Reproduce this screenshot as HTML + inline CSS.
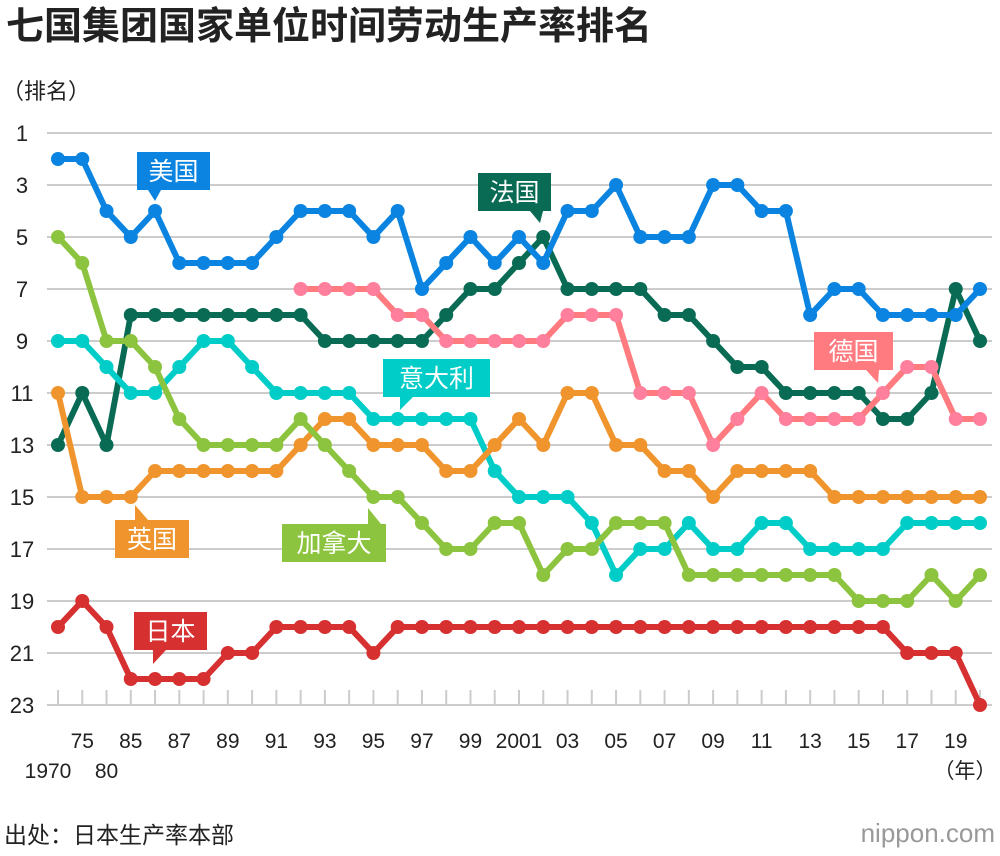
<!DOCTYPE html>
<html><head><meta charset="utf-8">
<style>
body{margin:0;background:#fff;width:1000px;height:856px;overflow:hidden;font-family:"Liberation Sans","Noto Sans CJK SC",sans-serif;}
svg{position:absolute;left:0;top:0}
</style></head>
<body>
<svg width="1000" height="856" id="chart">
<text x="6" y="39" font-size="38" font-weight="bold" fill="#222" font-family="Liberation Sans, Noto Sans CJK SC, sans-serif">七国集团国家单位时间劳动生产率排名</text>
<text x="2" y="99" font-size="22" fill="#222" font-family="Liberation Sans, Noto Sans CJK SC, sans-serif">（排名）</text>
<g id="grid"></g><g id="series"></g><g id="labels"></g>
<text x="4" y="843" font-size="23" fill="#222" font-family="Liberation Sans, Noto Sans CJK SC, sans-serif">出处：日本生产率本部</text>
<text x="995" y="842" text-anchor="end" font-size="26" fill="#999" font-family="Liberation Sans, sans-serif">nippon.com</text>
</svg>
<script>
const years=[1970,1975,1980,1985,1986,1987,1988,1989,1990,1991,1992,1993,1994,1995,1996,1997,1998,1999,2000,2001,2002,2003,2004,2005,2006,2007,2008,2009,2010,2011,2012,2013,2014,2015,2016,2017,2018,2019,2020];
const usa=[2,2,4,5,4,6,6,6,6,5,4,4,4,5,4,7,6,5,6,5,6,4,4,3,5,5,5,3,3,4,4,8,7,7,8,8,8,8,7];
const france=[13,11,13,8,8,8,8,8,8,8,8,9,9,9,9,9,8,7,7,6,5,7,7,7,7,8,8,9,10,10,11,11,11,11,12,12,11,7,9];
const germany=[null,null,null,null,null,null,null,null,null,null,7,7,7,7,8,8,9,9,9,9,9,8,8,8,11,11,11,13,12,11,12,12,12,12,11,10,10,12,12];
const italy=[9,9,10,11,11,10,9,9,10,11,11,11,11,12,12,12,12,12,14,15,15,15,16,18,17,17,16,17,17,16,16,17,17,17,17,16,16,16,16];
const uk=[11,15,15,15,14,14,14,14,14,14,13,12,12,13,13,13,14,14,13,12,13,11,11,13,13,14,14,15,14,14,14,14,15,15,15,15,15,15,15];
const canada=[5,6,9,9,10,12,13,13,13,13,12,13,14,15,15,16,17,17,16,16,18,17,17,16,16,16,18,18,18,18,18,18,18,19,19,19,18,19,18];
const japan=[20,19,20,22,22,22,22,21,21,20,20,20,20,21,20,20,20,20,20,20,20,20,20,20,20,20,20,20,20,20,20,20,20,20,20,21,21,21,23];
const yTicks=[1,3,5,7,9,11,13,15,17,19,21,23];
const xTickLabels=["","75","","85","","87","","89","","91","","93","","95","","97","","99","","2001","","03","","05","","07","","09","","11","","13","","15","","17","","19",""];

const NS="http://www.w3.org/2000/svg";
function x(i){return 58+i*(980-58)/38;}
function y(r){return 133+(r-1)*(705-133)/22;}
function mk(tag,attrs,parent){const e=document.createElementNS(NS,tag);for(const k in attrs)e.setAttribute(k,attrs[k]);parent.appendChild(e);return e;}
const grid=document.getElementById('grid'),ser=document.getElementById('series'),lab=document.getElementById('labels');
yTicks.forEach(r=>{
  const l=mk('line',{x1:47,x2:992,y1:y(r),y2:y(r),stroke:'#ccc','stroke-width':2},grid);
  
  
  const t=mk('text',{x:22,y:y(r)+8,'text-anchor':'middle','font-size':22,fill:'#222'},grid);
  t.textContent=r;
  
  
});
years.forEach((yr,i)=>{
  const tk=mk('line',{x1:x(i),x2:x(i),y1:690,y2:705,stroke:'#ccc','stroke-width':2},grid);
  
  
  if(xTickLabels[i]){
    const t=mk('text',{x:x(i),y:748,'text-anchor':'middle','font-size':21,fill:'#222'},grid);
    t.textContent=xTickLabels[i];
    
    
  }
});
[["1970",x(0)-10],["80",x(2)]].forEach(([s,px])=>{
  const t=mk('text',{x:px,y:778,'text-anchor':'middle','font-size':21,fill:'#222'},grid);
  t.textContent=s;
  
  
});
const yl=mk('text',{x:965,y:778,'text-anchor':'middle','font-size':21,fill:'#222','font-family':'Liberation Sans, Noto Sans CJK SC, sans-serif'},grid);
yl.textContent='（年）';



const series=[["france",france,"#0a6b55","#0a6b55"],["germany",germany,"#ff7b80","#ff7f9c"],["italy",italy,"#00cdc8","#00cdc8"],["uk",uk,"#f0952e","#f0952e"],["canada",canada,"#8dc43f","#8dc43f"],["japan",japan,"#d63031","#d63031"],["usa",usa,"#0a84e0","#0a84e0"]];
series.forEach(([nm,d,c,dc])=>{
  const g=mk('g',{},ser);
  
  
  let p='';d.forEach((v,i)=>{if(v!=null)p+=(p?'L':'M')+x(i)+','+y(v);});
  const pl=mk('path',{d:p,fill:'none',stroke:c,'stroke-width':6,'stroke-linejoin':'round'},g);
  
  
  d.forEach((v,i)=>{if(v==null)return;
    const ci=mk('circle',{cx:x(i),cy:y(v),r:7,fill:dc},g);
    
    
  });
});
const callouts=[["美国",137,152,73,148,155,201,"#0a84e0"],["法国",478,173,73,530,540,223,"#0a6b55"],["德国",814,332,79,866,878,383,"#ff7b80"],["意大利",383,359,107,400,400,410,"#00cdc8"],["英国",115,520,74,135,135,505,"#f0952e"],["加拿大",282,524,104,368,368,508,"#8dc43f"],["日本",134,612,73,153,153,664,"#d63031"]];
callouts.forEach(([s,bx,by,bw,px,tx,ty,c])=>{
  const g=mk('g',{},lab);
  
  
  mk('rect',{x:bx,y:by,width:bw,height:38,fill:c},g);
  const up=ty<by;
  const base=up?by:by+38;
  mk('polygon',{points:`${px},${base} ${px+13},${base} ${tx},${ty}`,fill:c},g);
  const t=mk('text',{x:bx+bw/2,y:by+28,'text-anchor':'middle','font-size':25,fill:'#fff','font-family':'Liberation Sans, Noto Sans CJK SC, sans-serif'},g);
  t.textContent=s;
});
</script>
</body></html>
